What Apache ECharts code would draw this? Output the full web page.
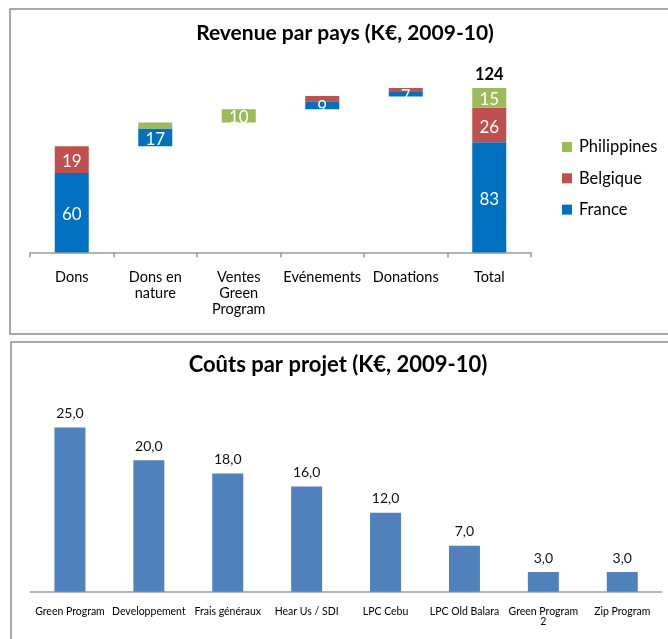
<!DOCTYPE html>
<html>
<head>
<meta charset="utf-8">
<script src="https://cdn.jsdelivr.net/npm/echarts@6/dist/echarts.min.js"></script>
<style>
  html, body { margin: 0; padding: 0; background: #fff; }
  #chart { width: 668px; height: 639px; }
</style>
</head>
<body>
<div id="chart"></div>
<script>
// ---- Data: Revenue par pays (waterfall) ----
const revCategories = ['Dons', 'Dons en\nnature', 'Ventes\nGreen\nProgram', 'Evénements', 'Donations', 'Total'];
const revBase = [0, 80, 98, 108, 117.5, 0];
const revFrance = [60, 13.5, 0, 6, 3.5, 83];
const revBelgique = [20, 0, 0, 4, 3, 26];
const revPhilippines = [0, 4.5, 10, 0, 0, 15];
const revFranceLabels = ['60', '17', '', '9', '7', '83'];
const revBelgiqueLabels = ['19', '', '', '', '', '26'];
const revPhilippinesLabels = ['', '', '10', '', '', '15'];
const revTotalLabels = ['', '', '', '', '', '124'];
const revTotalMarker = [null, null, null, null, null, 0];

// ---- Data: Coûts par projet ----
const costCategories = ['Green Program', 'Developpement', 'Frais généraux', 'Hear Us / SDI', 'LPC Cebu', 'LPC Old Balara', 'Green Program\n2', 'Zip Program'];
const costValues = [25, 20, 18, 16, 12, 7, 3, 3];

const FONT = 'Lato';
const chart = echarts.init(document.getElementById('chart'), null, { renderer: 'canvas' });

function insideLabel(labels) {
  return {
    show: true,
    position: 'inside',
    offset: [0, 2],
    color: '#fff',
    fontFamily: FONT,
    fontSize: 17,
    formatter: p => labels[p.dataIndex]
  };
}

chart.setOption({
  animation: false,
  backgroundColor: '#fff',
  textStyle: { fontFamily: FONT },
  graphic: [
    { type: 'rect', shape: { x: 10, y: 9, width: 700, height: 325 }, style: { fill: 'none', stroke: '#8c8c8c', lineWidth: 1.5 }, z: -1 },
    { type: 'rect', shape: { x: 11, y: 342, width: 700, height: 400 }, style: { fill: 'none', stroke: '#8c8c8c', lineWidth: 1.5 }, z: -1 }
  ],
  title: [
    { text: 'Revenue par pays (K€, 2009-10)', left: 345, top: 22.5, textAlign: 'center', padding: 0,
      textStyle: { fontFamily: FONT, fontSize: 21, fontWeight: 'bold', color: '#000' } },
    { text: 'Coûts par projet (K€, 2009-10)', left: 338, top: 354, textAlign: 'center', padding: 0,
      textStyle: { fontFamily: FONT, fontSize: 22, fontWeight: 'bold', color: '#000' } }
  ],
  legend: {
    orient: 'vertical',
    left: 557, top: 133.5,
    itemWidth: 10, itemHeight: 10, itemGap: 14.3,
    icon: 'rect',
    data: ['Philippines', 'Belgique', 'France'],
    textStyle: { fontFamily: FONT, fontSize: 16.5, color: '#000', lineHeight: 16, padding: [0, 0, 0, 2] }
  },
  grid: [
    { left: 30, right: 137, top: 80, bottom: 386.5, containLabel: false },
    { left: 30.5, right: 6.3, top: 394.6, bottom: 47.3, containLabel: false }
  ],
  xAxis: [
    { type: 'category', gridIndex: 0, data: revCategories,
      axisLine: { lineStyle: { color: '#9a9a9a', width: 1.5 } },
      axisTick: { show: true, length: 5, lineStyle: { color: '#9a9a9a', width: 1.5 } },
      axisLabel: { interval: 0, margin: 17, fontFamily: FONT, fontSize: 14.5, lineHeight: 16, color: '#000' } },
    { type: 'category', gridIndex: 1, data: costCategories,
      axisLine: { lineStyle: { color: '#9a9a9a', width: 1.5 } },
      axisTick: { show: false },
      axisLabel: { interval: 0, margin: 15, fontFamily: FONT, fontSize: 10.5, lineHeight: 10, color: '#000' } }
  ],
  yAxis: [
    { type: 'value', gridIndex: 0, min: 0, max: 130, show: false, splitLine: { show: false } },
    { type: 'value', gridIndex: 1, min: 0, max: 30, show: false, splitLine: { show: false } }
  ],
  series: [
    { name: 'base', type: 'bar', stack: 'rev', xAxisIndex: 0, yAxisIndex: 0, barWidth: 34,
      itemStyle: { color: 'transparent' }, silent: true, data: revBase },
    { name: 'France', type: 'bar', stack: 'rev', xAxisIndex: 0, yAxisIndex: 0, barWidth: 34,
      itemStyle: { color: '#0070C0' }, label: insideLabel(revFranceLabels), data: revFrance },
    { name: 'Belgique', type: 'bar', stack: 'rev', xAxisIndex: 0, yAxisIndex: 0, barWidth: 34,
      itemStyle: { color: '#C0504D' }, label: insideLabel(revBelgiqueLabels), data: revBelgique },
    { name: 'Philippines', type: 'bar', stack: 'rev', xAxisIndex: 0, yAxisIndex: 0, barWidth: 34,
      itemStyle: { color: '#9BBB59' }, label: insideLabel(revPhilippinesLabels), data: revPhilippines },
    { name: 'totalLbl', type: 'bar', stack: 'rev', xAxisIndex: 0, yAxisIndex: 0, barWidth: 34,
      itemStyle: { color: 'transparent' },
      label: { show: true, position: 'top', distance: 5, color: '#000', fontFamily: FONT, fontSize: 16.5, fontWeight: 'bold',
        formatter: p => revTotalLabels[p.dataIndex] },
      data: revTotalMarker },
    { name: 'Coûts', type: 'bar', xAxisIndex: 1, yAxisIndex: 1, barWidth: 31,
      itemStyle: { color: '#4F81BD' },
      label: { show: true, position: 'top', distance: 7, color: '#111', fontFamily: FONT, fontSize: 14,
        formatter: p => p.value.toFixed(1).replace('.', ',') },
      data: costValues }
  ]
});
</script>
</body>
</html>
